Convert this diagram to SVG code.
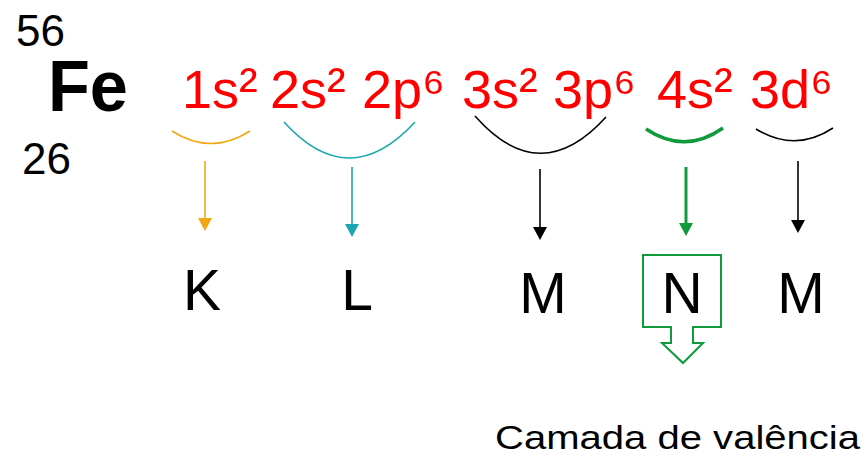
<svg xmlns="http://www.w3.org/2000/svg" width="866" height="457" viewBox="0 0 866 457">
<style>
  text { font-family: "Liberation Sans", Arial, sans-serif; }
  .num { font-size: 44px; fill: #000; }
  .sym { font-size: 72px; font-weight: bold; fill: #000; }
  .cfg { font-size: 54px; fill: #ff0000; }
  .sup { font-size: 56px; }
  .shell { font-size: 57px; fill: #000; text-anchor: middle; }
  .lbl { font-size: 34px; fill: #000; }
  .arc { fill: none; }
  .orange { stroke: #f3a712; }
  .teal { stroke: #1aa7b0; }
  .black { stroke: #000; }
  .green { stroke: #0f9a3c; }
</style>
<g id="element">
  <text class="num" x="16" y="46">56</text>
  <text class="sym" x="48" y="111" textLength="80" lengthAdjust="spacingAndGlyphs">Fe</text>
  <text class="num" x="22" y="174">26</text>
</g>
<g id="configuration">
  <text class="cfg" x="182" y="108">1s<tspan class="sup">²</tspan></text>
  <text class="cfg" x="270" y="108">2s<tspan class="sup">²</tspan></text>
  <text class="cfg" x="362" y="108">2p<tspan class="sup">⁶</tspan></text>
  <text class="cfg" x="462" y="108">3s<tspan class="sup">²</tspan></text>
  <text class="cfg" x="553" y="108">3p<tspan class="sup">⁶</tspan></text>
  <text class="cfg" x="657" y="108">4s<tspan class="sup">²</tspan></text>
  <text class="cfg" x="750" y="108">3d<tspan class="sup">⁶</tspan></text>
</g>
<g id="brackets">
  <path class="arc orange" stroke-width="1.6" d="M172,131 Q211,156 250,131"/>
  <path class="arc teal" stroke-width="1.6" d="M284,122 Q349,194 415,122"/>
  <path class="arc black" stroke-width="1.6" d="M475,116 Q540,190 606,117"/>
  <path class="arc green" stroke-width="3.5" d="M646,129 Q685,155 723,128"/>
  <path class="arc black" stroke-width="1.6" d="M756,129 Q795,153 833,128"/>
</g>
<g id="connectors">
  <line x1="205" y1="161" x2="205" y2="220" stroke="#f3a712" stroke-width="1.6"/>
  <path d="M198,218 H212 L205,231 Z" fill="#f3a712"/>
  <line x1="352" y1="167" x2="352" y2="226" stroke="#1aa7b0" stroke-width="1.6"/>
  <path d="M345,224 H359 L352,237 Z" fill="#1aa7b0"/>
  <line x1="540" y1="169" x2="540" y2="229" stroke="#000" stroke-width="1.6"/>
  <path d="M533,227 H547 L540,240 Z" fill="#000"/>
  <line x1="686" y1="167" x2="686" y2="225" stroke="#0f9a3c" stroke-width="3"/>
  <path d="M679,223 H693 L686,236 Z" fill="#0f9a3c"/>
  <line x1="798" y1="161" x2="798" y2="222" stroke="#000" stroke-width="1.6"/>
  <path d="M791,220 H805 L798,233 Z" fill="#000"/>
</g>
<g id="shell-K"><text class="shell" x="202" y="310">K</text></g>
<g id="shell-L"><text class="shell" x="357" y="310">L</text></g>
<g id="shell-M1"><text class="shell" x="543" y="313">M</text></g>
<g id="shell-N">
  <path d="M643,255 H721 V327 H693 V343 H703 L683,363 L662,343 H671 V327 H643 Z" fill="none" stroke="#0f9a3c" stroke-width="2"/>
  <text class="shell" x="682" y="313">N</text>
</g>
<g id="shell-M2"><text class="shell" x="801" y="313">M</text></g>
<g id="valence-label">
  <text class="lbl" x="495" y="449" textLength="365" lengthAdjust="spacingAndGlyphs">Camada de valência</text>
</g>
</svg>
